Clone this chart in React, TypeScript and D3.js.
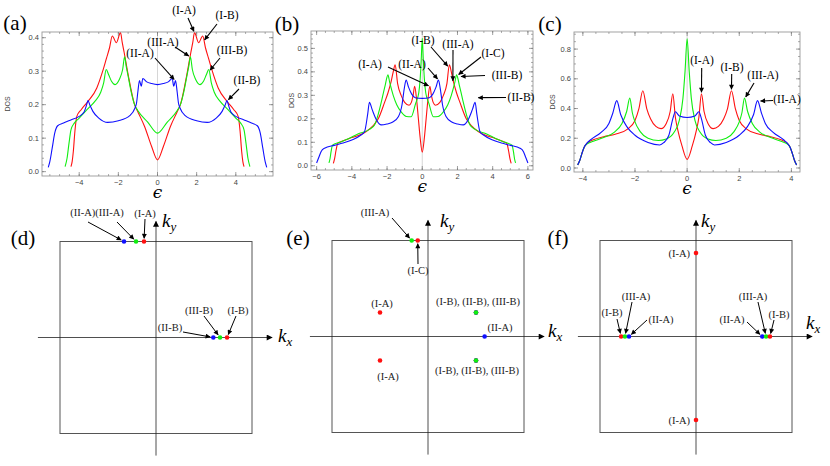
import * as d3 from 'd3';

type Pt = [number, number];
type Series = 'I' | 'II' | 'III';

// DOS curves. Each curve is symmetric in eps, so only eps >= 0 is listed.
const dosA_I: Pt[] = [[0,0.035],[0.3,0.075],[0.66,0.135],[1.0,0.178],[1.17,0.2],[1.5,0.29],[1.7,0.355],[1.8,0.385],[1.89,0.415],[2.1,0.385],[2.31,0.405],[2.45,0.37],[2.6,0.34],[2.8,0.3],[3.1,0.25],[3.55,0.21],[3.9,0.185],[4.12,0.165],[4.22,0.12],[4.3,0.06],[4.36,0.03],[4.42,0.015]];
const dosA_III: Pt[] = [[0,0.115],[0.5,0.148],[1.0,0.182],[1.17,0.2],[1.35,0.24],[1.5,0.285],[1.6,0.315],[1.68,0.343],[1.78,0.305],[1.95,0.275],[2.17,0.26],[2.35,0.27],[2.5,0.29],[2.62,0.305],[2.75,0.265],[2.9,0.237],[3.2,0.21],[3.55,0.188],[4.0,0.16],[4.25,0.145],[4.42,0.125],[4.52,0.085],[4.62,0.04],[4.72,0.015]];
const dosA_II: Pt[] = [[0,0.26],[0.3,0.263],[0.55,0.268],[0.75,0.278],[0.83,0.255],[0.92,0.272],[1.0,0.24],[1.07,0.205],[1.15,0.19],[1.4,0.168],[2.0,0.152],[2.54,0.147],[3.0,0.16],[3.3,0.18],[3.45,0.198],[3.55,0.212],[3.63,0.198],[3.75,0.178],[4.0,0.165],[4.4,0.155],[4.8,0.145],[5.1,0.137],[5.25,0.115],[5.38,0.07],[5.5,0.03],[5.58,0.013]];

const dosB_I: Pt[] = [[0,0.058],[0.12,0.12],[0.22,0.2],[0.32,0.28],[0.43,0.338],[0.52,0.3],[0.62,0.27],[0.75,0.258],[1.0,0.27],[1.2,0.3],[1.4,0.35],[1.54,0.43],[1.65,0.4],[1.77,0.358],[1.95,0.31],[2.14,0.27],[2.5,0.2],[2.8,0.17],[3.2,0.145],[3.6,0.13],[4.0,0.12],[4.6,0.103],[4.8,0.095],[4.9,0.065],[4.98,0.03],[5.05,0.01]];
const dosB_III: Pt[] = [[0,0.543],[0.06,0.45],[0.12,0.37],[0.2,0.31],[0.38,0.265],[0.63,0.209],[0.9,0.21],[1.2,0.23],[1.45,0.26],[1.65,0.3],[1.85,0.355],[1.95,0.387],[2.1,0.345],[2.3,0.28],[2.5,0.22],[2.71,0.174],[3.0,0.155],[3.66,0.135],[4.2,0.115],[4.7,0.1],[5.1,0.088],[5.18,0.06],[5.24,0.03],[5.3,0.012]];
const dosB_II: Pt[] = [[0,0.287],[0.4,0.29],[0.6,0.305],[0.78,0.335],[0.92,0.365],[1.02,0.33],[1.15,0.26],[1.35,0.21],[1.7,0.185],[2.0,0.178],[2.33,0.174],[2.6,0.195],[2.85,0.24],[3.0,0.27],[3.1,0.22],[3.28,0.145],[3.5,0.13],[4.0,0.11],[4.5,0.097],[5.0,0.087],[5.55,0.075],[5.75,0.06],[5.88,0.035],[6.0,0.012]];

const dosC_I: Pt[] = [[0,0.058],[0.2,0.15],[0.35,0.25],[0.45,0.34],[0.55,0.5],[0.65,0.38],[0.8,0.3],[1.0,0.265],[1.2,0.28],[1.4,0.33],[1.55,0.4],[1.7,0.52],[1.85,0.4],[2.0,0.32],[2.3,0.26],[2.7,0.23],[3.2,0.21],[3.6,0.19],[3.85,0.165],[3.95,0.14],[4.05,0.09],[4.12,0.05],[4.2,0.02]];
const dosC_III: Pt[] = [[0,0.87],[0.08,0.65],[0.16,0.47],[0.3,0.32],[0.5,0.24],[0.8,0.195],[1.1,0.185],[1.5,0.2],[1.8,0.245],[2.0,0.31],[2.1,0.37],[2.2,0.47],[2.32,0.38],[2.5,0.3],[2.8,0.24],[3.2,0.205],[3.6,0.18],[3.85,0.16],[3.95,0.14],[4.05,0.09],[4.12,0.05],[4.2,0.02]];
const dosC_II: Pt[] = [[0,0.34],[0.3,0.35],[0.45,0.378],[0.55,0.33],[0.7,0.22],[0.9,0.17],[1.05,0.155],[1.5,0.172],[2.0,0.22],[2.3,0.275],[2.55,0.36],[2.7,0.453],[2.85,0.37],[3.0,0.3],[3.3,0.24],[3.7,0.19],[3.85,0.165],[3.95,0.14],[4.05,0.09],[4.12,0.05],[4.2,0.02]];

// k-points (units of pi) for the lower panels
type KPt = { s: Series; kx: number; ky: number };
const kptsD: KPt[] = [
  { s: 'II', kx: -0.333, ky: 1 }, { s: 'III', kx: -0.208, ky: 1 }, { s: 'I', kx: -0.125, ky: 1 },
  { s: 'II', kx: 0.597, ky: 0 }, { s: 'III', kx: 0.667, ky: 0 }, { s: 'I', kx: 0.74, ky: 0 },
];
const kptsE: KPt[] = [
  { s: 'III', kx: -0.17, ky: 1 }, { s: 'I', kx: -0.107, ky: 1 },
  { s: 'I', kx: -0.5, ky: 0.25 }, { s: 'I', kx: -0.5, ky: -0.25 },
  { s: 'I', kx: 0.5, ky: 0.25 }, { s: 'II', kx: 0.5, ky: 0.25 }, { s: 'III', kx: 0.5, ky: 0.25 },
  { s: 'I', kx: 0.5, ky: -0.25 }, { s: 'II', kx: 0.5, ky: -0.25 }, { s: 'III', kx: 0.5, ky: -0.25 },
  { s: 'II', kx: 0.59, ky: 0 },
];
const kptsF: KPt[] = [
  { s: 'I', kx: 0, ky: 0.87 }, { s: 'I', kx: 0, ky: -0.87 },
  { s: 'I', kx: -0.78, ky: 0 }, { s: 'III', kx: -0.74, ky: 0 }, { s: 'II', kx: -0.698, ky: 0 },
  { s: 'II', kx: 0.69, ky: 0 }, { s: 'III', kx: 0.73, ky: 0 }, { s: 'I', kx: 0.77, ky: 0 },
];

const COLORS: Record<Series, string> = { I: '#ff1010', II: '#1010ff', III: '#10ee10' };
const SERIF = '"Liberation Serif", "Times New Roman", serif';
const SANS = '"Liberation Sans", Arial, sans-serif';

const mirror = (half: Pt[]): Pt[] => [
  ...half.filter(d => d[0] > 0).map(d => [-d[0], d[1]] as Pt).reverse(),
  ...half,
];

type Note = { text: string; tx: number; ty: number; sx: number; sy: number; e: number; v: number };
type DosSpec = {
  tag: string; tagX: number; tagY: number;
  left: number; right: number; top: number; bottom: number;
  xDomain: [number, number]; yDomain: [number, number];
  xStep: number; xMinor: number; yStep: number; yMinor: number;
  dosX: number;
  curves: { s: Series; data: Pt[] }[];
  notes: Note[];
};

const panelsTop: DosSpec[] = [
  {
    tag: '(a)', tagX: 15, tagY: 23, left: 42, right: 273, top: 32, bottom: 176,
    xDomain: [-5.9, 5.9], yDomain: [-0.013, 0.417], xStep: 2, xMinor: 0.5, yStep: 0.1, yMinor: 0.02, dosX: 7,
    curves: [{ s: 'I', data: dosA_I }, { s: 'III', data: dosA_III }, { s: 'II', data: dosA_II }],
    notes: [
      { text: '(I-A)', tx: 184, ty: 10, sx: 188, sy: 18, e: 1.89, v: 0.415 },
      { text: '(I-B)', tx: 227, ty: 15, sx: 217, sy: 24, e: 2.36, v: 0.39 },
      { text: '(III-A)', tx: 163, ty: 42, sx: 175, sy: 47, e: 1.66, v: 0.343 },
      { text: '(III-B)', tx: 232, ty: 50, sx: 220, sy: 58, e: 2.64, v: 0.3 },
      { text: '(II-A)', tx: 140, ty: 53, sx: 155, sy: 58, e: 0.9, v: 0.272 },
      { text: '(II-B)', tx: 247, ty: 80, sx: 239, sy: 89, e: 3.57, v: 0.212 },
    ],
  },
  {
    tag: '(b)', tagX: 287, tagY: 24, left: 311, right: 533, top: 31, bottom: 170,
    xDomain: [-6.32, 6.29], yDomain: [-0.018, 0.574], xStep: 2, xMinor: 0.5, yStep: 0.1, yMinor: 0.02, dosX: 291,
    curves: [{ s: 'I', data: dosB_I }, { s: 'III', data: dosB_III }, { s: 'II', data: dosB_II }],
    notes: [
      { text: '(I-B)', tx: 423, ty: 40, sx: 431, sy: 47, e: 1.5, v: 0.42 },
      { text: '(III-A)', tx: 458, ty: 44, sx: 453, sy: 50, e: 1.74, v: 0.356 },
      { text: '(I-C)', tx: 493, ty: 53, sx: 481, sy: 57, e: 2.0, v: 0.385 },
      { text: '(III-B)', tx: 507, ty: 75, sx: 485, sy: 75.5, e: 2.12, v: 0.38 },
      { text: '(II-B)', tx: 521, ty: 97, sx: 506, sy: 97.5, e: 3.1, v: 0.29 },
      { text: '(I-A)', tx: 370, ty: 64, sx: 388, sy: 67, e: 0.43, v: 0.338 },
      { text: '(II-A)', tx: 412, ty: 64, sx: 428, sy: 68, e: 0.92, v: 0.365 },
    ],
  },
  {
    tag: '(c)', tagX: 550, tagY: 24, left: 574, right: 800, top: 32, bottom: 172,
    xDomain: [-4.34, 4.33], yDomain: [-0.027, 0.915], xStep: 2, xMinor: 0.5, yStep: 0.2, yMinor: 0.05, dosX: 552,
    curves: [{ s: 'I', data: dosC_I }, { s: 'III', data: dosC_III }, { s: 'II', data: dosC_II }],
    notes: [
      { text: '(I-A)', tx: 702, ty: 60, sx: 701.7, sy: 68, e: 0.55, v: 0.5 },
      { text: '(I-B)', tx: 732, ty: 67, sx: 731.7, sy: 74, e: 1.7, v: 0.52 },
      { text: '(III-A)', tx: 763, ty: 75, sx: 754, sy: 83, e: 2.22, v: 0.47 },
      { text: '(II-A)', tx: 787, ty: 99, sx: 773, sy: 100.5, e: 2.76, v: 0.45 },
    ],
  },
];

type KArrow = { sx: number; sy: number; kx: number; ky: number };
type KSpec = {
  tag: string; tagX: number; tagY: number; cx: number; cy: number; half: number;
  pts: KPt[]; labels: [string, number, number, string?][]; arrows: KArrow[];
  kxLab: [number, number]; kyLab: [number, number];
};

const panelsBottom: KSpec[] = [
  {
    tag: '(d)', tagX: 23, tagY: 238, cx: 156, cy: 337.5, half: 96, pts: kptsD,
    labels: [['(II-A)(III-A)', 97, 212], ['(I-A)', 145, 213], ['(III-B)', 199, 310], ['(I-B)', 238, 310], ['(II-B)', 170, 327]],
    arrows: [
      { sx: 88, sy: 222, kx: -0.333, ky: 1 }, { sx: 117, sy: 222, kx: -0.208, ky: 1 }, { sx: 145, sy: 219, kx: -0.125, ky: 1 },
      { sx: 204, sy: 316, kx: 0.667, ky: 0 }, { sx: 236, sy: 316, kx: 0.74, ky: 0 }, { sx: 183, sy: 332, kx: 0.597, ky: 0 },
    ],
    kxLab: [278, 342], kyLab: [162, 227],
  },
  {
    tag: '(e)', tagX: 298, tagY: 238, cx: 428, cy: 336.5, half: 96, pts: kptsE,
    labels: [['(III-A)', 375, 212], ['(I-C)', 418, 270], ['(I-A)', 382, 303], ['(I-A)', 388, 376],
      ['(I-B), (II-B), (III-B)', 478, 301], ['(I-B), (II-B), (III-B)', 477, 370], ['(II-A)', 500, 327]],
    arrows: [{ sx: 392, sy: 218, kx: -0.17, ky: 1 }, { sx: 418, sy: 264, kx: -0.107, ky: 1 }],
    kxLab: [548, 337], kyLab: [440, 227],
  },
  {
    tag: '(f)', tagX: 558, tagY: 238, cx: 696, cy: 336.5, half: 96, pts: kptsF,
    labels: [['(I-A)', 690, 253, 'end'], ['(I-A)', 690, 420, 'end'], ['(III-A)', 636, 296], ['(I-B)', 612, 312], ['(II-A)', 661, 319],
      ['(III-A)', 753, 296], ['(II-A)', 732, 319], ['(I-B)', 779, 314]],
    arrows: [
      { sx: 617, sy: 319, kx: -0.78, ky: 0 }, { sx: 632, sy: 302, kx: -0.74, ky: 0 }, { sx: 647, sy: 320, kx: -0.698, ky: 0 },
      { sx: 758, sy: 302, kx: 0.73, ky: 0 }, { sx: 747, sy: 322, kx: 0.69, ky: 0 }, { sx: 774, sy: 320, kx: 0.77, ky: 0 },
    ],
    kxLab: [806, 329], kyLab: [701, 227],
  },
];

// pull the arrow tip back along its direction
const shorten = (sx: number, sy: number, ex: number, ey: number, by: number) => {
  const dx = ex - sx, dy = ey - sy, len = Math.hypot(dx, dy) || 1;
  return [ex - (dx / len) * by, ey - (dy / len) * by];
};

const fmtTick = (v: number, digits: number) => (v < 0 ? '\u2212' : '') + Math.abs(v).toFixed(digits);

function DosPanel({ p }: { p: DosSpec }) {
  const x = d3.scaleLinear().domain(p.xDomain).range([p.left, p.right]);
  const y = d3.scaleLinear().domain(p.yDomain).range([p.bottom, p.top]);
  const line = d3.line<Pt>().x(d => x(d[0])).y(d => y(d[1])).curve(d3.curveMonotoneX);
  const inX = (v: number) => v >= p.xDomain[0] && v <= p.xDomain[1];
  const inY = (v: number) => v >= p.yDomain[0] && v <= p.yDomain[1];
  const xMaj = d3.range(-8, 8.001, p.xStep).filter(inX);
  const xMin = d3.range(-8, 8.001, p.xMinor).filter(inX);
  const yMaj = d3.range(0, 1.001, p.yStep).map(v => +v.toFixed(3)).filter(inY);
  const yMin = d3.range(0, 1.001, p.yMinor).map(v => +v.toFixed(3)).filter(inY);
  const tickCol = '#777';
  return (
    <g>
      <line x1={x(0)} x2={x(0)} y1={p.top} y2={p.bottom} stroke="#ccc" strokeWidth={0.8} />
      {p.curves.map(c => (
        <path key={c.s} d={line(mirror(c.data)) ?? ''} fill="none" stroke={COLORS[c.s]} strokeWidth={1.1} />
      ))}
      <rect x={p.left} y={p.top} width={p.right - p.left} height={p.bottom - p.top} fill="none" stroke="#999" strokeWidth={0.9} />
      {xMin.map(v => (
        <g key={'xm' + v} stroke={tickCol} strokeWidth={0.6}>
          <line x1={x(v)} x2={x(v)} y1={p.bottom} y2={p.bottom - 2} />
          <line x1={x(v)} x2={x(v)} y1={p.top} y2={p.top + 2} />
        </g>
      ))}
      {xMaj.map(v => (
        <g key={'xM' + v}>
          <line x1={x(v)} x2={x(v)} y1={p.bottom} y2={p.bottom - 4} stroke={tickCol} strokeWidth={0.7} />
          <line x1={x(v)} x2={x(v)} y1={p.top} y2={p.top + 4} stroke={tickCol} strokeWidth={0.7} />
          <text x={x(v)} y={p.bottom + 9} textAnchor="middle" fontSize={7.5} fontFamily={SANS} fill="#444">{fmtTick(v, 0)}</text>
        </g>
      ))}
      {yMin.map(v => (
        <g key={'ym' + v} stroke={tickCol} strokeWidth={0.6}>
          <line x1={p.left} x2={p.left + 2} y1={y(v)} y2={y(v)} />
          <line x1={p.right} x2={p.right - 2} y1={y(v)} y2={y(v)} />
        </g>
      ))}
      {yMaj.map(v => (
        <g key={'yM' + v}>
          <line x1={p.left} x2={p.left + 4} y1={y(v)} y2={y(v)} stroke={tickCol} strokeWidth={0.7} />
          <line x1={p.right} x2={p.right - 4} y1={y(v)} y2={y(v)} stroke={tickCol} strokeWidth={0.7} />
          <text x={p.left - 3} y={y(v) + 2.6} textAnchor="end" fontSize={7.5} fontFamily={SANS} fill="#444">{fmtTick(v, 1)}</text>
        </g>
      ))}
      <text transform={`translate(${p.dosX + 2.5},${(p.top + p.bottom) / 2}) rotate(-90)`} textAnchor="middle" fontSize={7} fontFamily={SANS} fill="#444">DOS</text>
      <text x={x(0)} y={p.bottom + 22} textAnchor="middle" fontSize={17} fontStyle="italic" fontFamily={'"DejaVu Serif", serif'}>{'\u03f5'}</text>
      <text x={p.tagX} y={p.tagY + 7} textAnchor="middle" fontSize={21} fontFamily={SERIF}>{p.tag}</text>
      {p.notes.map((n, i) => {
        const [ex, ey] = shorten(n.sx, n.sy, x(n.e), y(n.v), 1.5);
        return (
          <g key={i}>
            <text x={n.tx} y={n.ty + 4} textAnchor="middle" fontSize={11.5} fontFamily={SERIF}>{n.text}</text>
            <line x1={n.sx} y1={n.sy} x2={ex} y2={ey} stroke="#000" strokeWidth={1.1} markerEnd="url(#headS)" />
          </g>
        );
      })}
    </g>
  );
}

function KPanel({ p }: { p: KSpec }) {
  const kx = d3.scaleLinear().domain([-1, 1]).range([p.cx - p.half, p.cx + p.half]);
  const ky = d3.scaleLinear().domain([-1, 1]).range([p.cy + p.half, p.cy - p.half]);
  const ext = 1.23;
  return (
    <g>
      <rect x={kx(-1)} y={ky(1)} width={kx(1) - kx(-1)} height={ky(-1) - ky(1)} fill="none" stroke="#555" strokeWidth={1} />
      <line x1={kx(-ext)} x2={kx(ext) - 2} y1={ky(0)} y2={ky(0)} stroke="#222" strokeWidth={0.8} markerEnd="url(#headL)" />
      <line x1={kx(0)} x2={kx(0)} y1={ky(-ext)} y2={ky(ext) + 2} stroke="#222" strokeWidth={0.8} markerEnd="url(#headL)" />
      <text x={p.kxLab[0]} y={p.kxLab[1]} fontSize={19} fontStyle="italic" fontFamily={SERIF}>k<tspan fontSize={13} dy={4}>x</tspan></text>
      <text x={p.kyLab[0]} y={p.kyLab[1]} fontSize={19} fontStyle="italic" fontFamily={SERIF}>k<tspan fontSize={13} dy={4}>y</tspan></text>
      <text x={p.tagX} y={p.tagY + 7} textAnchor="middle" fontSize={21} fontFamily={SERIF}>{p.tag}</text>
      {p.pts.map((d, i) => (
        <circle key={i} cx={kx(d.kx)} cy={ky(d.ky)} r={2.3} fill={COLORS[d.s]} />
      ))}
      {p.labels.map(([t, tx, ty, anchor], i) => (
        <text key={i} x={tx} y={ty + 3.5} textAnchor={anchor ?? 'middle'} fontSize={10.5} fontFamily={SERIF} fill="#222">{t}</text>
      ))}
      {p.arrows.map((a, i) => {
        const [ex, ey] = shorten(a.sx, a.sy, kx(a.kx), ky(a.ky), 3.2);
        return <line key={i} x1={a.sx} y1={a.sy} x2={ex} y2={ey} stroke="#000" strokeWidth={1} markerEnd="url(#headS)" />;
      })}
    </g>
  );
}

export default function App() {
  return (
    <svg width={830} height={466} style={{ position: 'absolute', left: 0, top: 0, background: '#fff' }}>
      <defs>
        <marker id="headS" viewBox="0 0 10 10" refX={9} refY={5} markerWidth={6} markerHeight={5} orient="auto" markerUnits="userSpaceOnUse">
          <path d="M0,0 L10,5 L0,10 z" fill="#000" />
        </marker>
        <marker id="headL" viewBox="0 0 10 10" refX={9} refY={5} markerWidth={9} markerHeight={6} orient="auto" markerUnits="userSpaceOnUse">
          <path d="M0,0 L10,5 L0,10 z" fill="#000" />
        </marker>
      </defs>
      {panelsTop.map(p => <DosPanel key={p.tag} p={p} />)}
      {panelsBottom.map(p => <KPanel key={p.tag} p={p} />)}
    </svg>
  );
}
